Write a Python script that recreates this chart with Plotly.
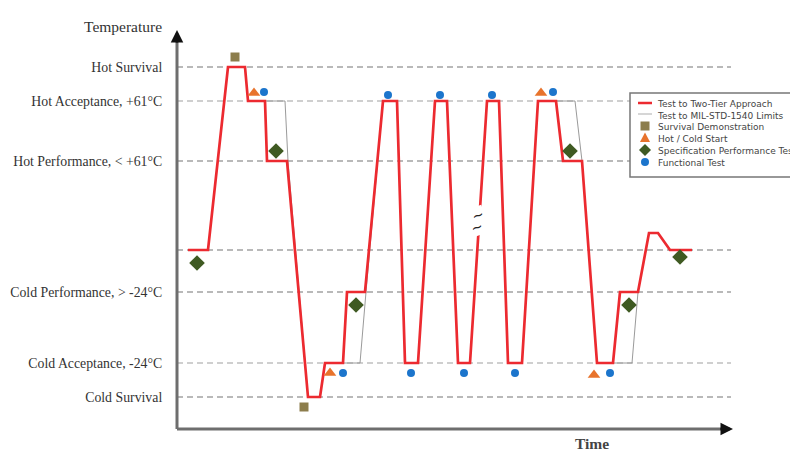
import plotly.graph_objects as go

# ---- data (schematic temperature levels, arbitrary units) ----
level_names = ["Hot Survival", "Hot Acceptance, +61°C", "Hot Performance, < +61°C",
               "Ambient", "Cold Performance, > -24°C", "Cold Acceptance, -24°C", "Cold Survival"]
level_values = [362, 328, 268, 179, 137, 66, 32]
tick_labels = ["Hot Survival", "Hot Acceptance, +61°C", "Hot Performance, < +61°C",
               "", "Cold Performance, > -24°C", "Cold Acceptance, -24°C", "Cold Survival"]
HS, HA, HP, AM, CP, CA, CS = level_values
OV = 196  # overshoot after final cold plateau

red_time = [11, 31, 51, 68, 71, 88, 90, 110, 131, 143, 148, 166, 170, 188, 206, 220,
            228, 241, 258, 270, 281, 293, 310, 322, 331, 345, 361, 379, 386, 405,
            420, 436, 443, 461, 472, 481, 493, 515]
red_temp = [AM, AM, HS, HS, HA, HA, HP, HP, CS, CS, CA, CA, CP, CP, HA, HA,
            CA, CA, HA, HA, CA, CA, HA, HA, CA, CA, HA, HA, HP, HP,
            CA, CA, CP, CP, OV, OV, AM, AM]

gray_time = [11, 31, 51, 68, 71, 88, 108, 111, 131, 143, 148, 183, 189, 206, 220,
             228, 241, 258, 270, 281, 293, 310, 322, 331, 345, 361, 379, 398, 405,
             420, 436, 455, 461, 472, 481, 493, 515]
gray_temp = [AM, AM, HS, HS, HA, HA, HA, HP, CS, CS, CA, CA, CP, HA, HA,
             CA, CA, HA, HA, CA, CA, HA, HA, CA, CA, HA, HA, HA, HP,
             CA, CA, CA, CP, OV, OV, AM, AM]

surv_time = [58, 127]
surv_temp = [372, 22]
start_time = [77, 153, 364, 417]
start_temp = [336, 56, 336, 54]
spec_time = [20, 99, 179, 393, 452, 503]
spec_temp = [166, 278, 124, 278, 124, 172]
func_time = [87, 166, 211, 234, 263, 287, 315, 338, 376, 433]
func_temp = [337, 56, 334, 56, 334, 56, 334, 56, 337, 56]

legend_labels = ["Test to Two-Tier Approach", "Test to MIL-STD-1540 Limits",
                 "Survival Demonstration", "Hot / Cold Start",
                 "Specification Performance Test", "Functional Test"]

RED = "#EC2A30"
GRAY = "#9a9a9a"
OLIVE = "#8C7D4C"
ORANGE = "#E8732C"
GREEN = "#3F5A22"
BLUE = "#1C75CC"

X_MAX, Y_MAX = 558, 399
BODY = 8                      # default page margin of the html body
L, T, W, H = 177, 30, 798, 453  # plot-area origin in screen pixels
PW, PH = X_MAX, Y_MAX


def px(p):
    return (p - L) / PW


def py(p):
    return (T + PH - p) / PH


fig = go.Figure()
fig.add_trace(go.Scatter(x=gray_time, y=gray_temp, mode="lines",
                         line=dict(color=GRAY, width=1), name="Test to MIL-STD-1540 Limits",
                         showlegend=False, hoverinfo="skip"))
fig.add_trace(go.Scatter(x=red_time, y=red_temp, mode="lines",
                         line=dict(color=RED, width=2.7), name="Test to Two-Tier Approach",
                         showlegend=False))
fig.add_trace(go.Scatter(x=surv_time, y=surv_temp, mode="markers", name="Survival Demonstration",
                         marker=dict(symbol="square", size=9, color=OLIVE), showlegend=False,
                         cliponaxis=False))
fig.add_trace(go.Scatter(x=start_time, y=start_temp, mode="markers", name="Hot / Cold Start",
                         marker=dict(symbol="triangle-up", size=11, color=ORANGE), showlegend=False))
fig.add_trace(go.Scatter(x=spec_time, y=spec_temp, mode="markers", name="Specification Performance Test",
                         marker=dict(symbol="diamond", size=12, color=GREEN), showlegend=False))
fig.add_trace(go.Scatter(x=func_time, y=func_temp, mode="markers", name="Functional Test",
                         marker=dict(symbol="circle", size=8, color=BLUE), showlegend=False))

shapes = []
for v in level_values:
    light = v in (HA, CA)
    shapes.append(dict(type="line", xref="x", yref="y", x0=0, x1=554, y0=v, y1=v,
                       line=dict(color="#c0c0c0" if light else "#a3a3a3",
                                 width=1.3 if light else 1.6, dash="6px,4px"), layer="below"))
# axes
shapes.append(dict(type="line", xref="paper", yref="paper", x0=0, x1=0, y0=0, y1=0.98,
                   line=dict(color="#6e6e6e", width=3)))
shapes.append(dict(type="line", xref="paper", yref="paper", x0=0, x1=0.98, y0=0, y1=0,
                   line=dict(color="#6e6e6e", width=3)))

# manual legend box
shapes.append(dict(type="rect", xref="paper", yref="paper", x0=px(630), x1=px(812),
                   y0=py(177), y1=py(93), line=dict(color="#777", width=1.5),
                   fillcolor="white"))
shapes.append(dict(type="line", xref="paper", yref="paper", x0=px(638), x1=px(652),
                   y0=py(103), y1=py(103), line=dict(color=RED, width=2.5)))
shapes.append(dict(type="line", xref="paper", yref="paper", x0=px(638), x1=px(652),
                   y0=py(114), y1=py(114), line=dict(color="#bbbbbb", width=1.2)))
# legend symbols (pixel-sized shapes)
shapes.append(dict(type="rect", xref="paper", yref="paper", xsizemode="pixel", ysizemode="pixel",
                   xanchor=px(645), yanchor=py(126), x0=-4.5, x1=4.5, y0=-4.5, y1=4.5,
                   fillcolor=OLIVE, line=dict(width=0)))
shapes.append(dict(type="path", xref="paper", yref="paper", xsizemode="pixel", ysizemode="pixel",
                   xanchor=px(645), yanchor=py(138), path="M-5,-4 L5,-4 L0,5.5 Z",
                   fillcolor=ORANGE, line=dict(width=0)))
shapes.append(dict(type="path", xref="paper", yref="paper", xsizemode="pixel", ysizemode="pixel",
                   xanchor=px(645), yanchor=py(150), path="M-6,0 L0,6 L6,0 L0,-6 Z",
                   fillcolor=GREEN, line=dict(width=0)))
shapes.append(dict(type="circle", xref="paper", yref="paper", xsizemode="pixel", ysizemode="pixel",
                   xanchor=px(645), yanchor=py(162), x0=-4, x1=4, y0=-4, y1=4,
                   fillcolor=BLUE, line=dict(width=0)))

annotations = []
# arrow heads
annotations.append(dict(x=0, y=1.0, xref="paper", yref="paper", ax=0, ay=14,
                        showarrow=True, arrowhead=2,
                        arrowsize=1, arrowwidth=2.5, arrowcolor="#111", text=""))
annotations.append(dict(x=px(733), y=0, xref="paper", yref="paper", ax=-14, ay=0,
                        showarrow=True, arrowhead=2, arrowsize=1, arrowwidth=2.5,
                        arrowcolor="#111", text=""))
annotations.append(dict(x=px(164), y=py(16), xref="paper", yref="paper", text="Temperature",
                        showarrow=False, xanchor="right",
                        font=dict(family="Liberation Serif", size=15.5, color="#333")))
annotations.append(dict(x=px(592), y=py(443), xref="paper", yref="paper", text="<b>Time</b>",
                        showarrow=False, xanchor="center", yanchor="middle",
                        font=dict(family="Liberation Serif", size=15.5, color="#444")))
# break marks on the rising line (white box interrupts the line)
for yy, xx in ((215, 478), (227, 477)):
    annotations.append(dict(x=px(xx), y=py(yy), xref="paper", yref="paper", text="~",
                            showarrow=False, textangle=-20, bgcolor="white", borderpad=0,
                            xanchor="center", yanchor="middle",
                            font=dict(family="DejaVu Sans", size=14, color="#222")))

annotations.append(dict(x=px(655), y=py(97), xref="paper", yref="paper",
                        text="<br>".join(legend_labels), align="left",
                        showarrow=False, xanchor="left", yanchor="top",
                        font=dict(family="DejaVu Sans", size=9, color="#444")))

fig.update_layout(
    width=W, height=H,
    margin=dict(l=L - BODY, r=W - (L - BODY) - PW, t=T - BODY, b=H - (T - BODY) - PH,
                autoexpand=False),
    plot_bgcolor="white", paper_bgcolor="white",
    shapes=shapes, annotations=annotations, showlegend=False,
    xaxis=dict(range=[0, X_MAX], showgrid=False, zeroline=False, showticklabels=False,
               showline=False, fixedrange=True, automargin=False),
    yaxis=dict(range=[0, Y_MAX], showgrid=False, zeroline=False, tickmode="array",
               tickvals=level_values, ticktext=tick_labels, ticks="outside", ticklen=11,
               tickcolor="rgba(0,0,0,0)", showline=False, automargin=False,
               tickfont=dict(family="Liberation Serif", size=13.8, color="#333"), fixedrange=True),
)

fig.write_html("out.html")
